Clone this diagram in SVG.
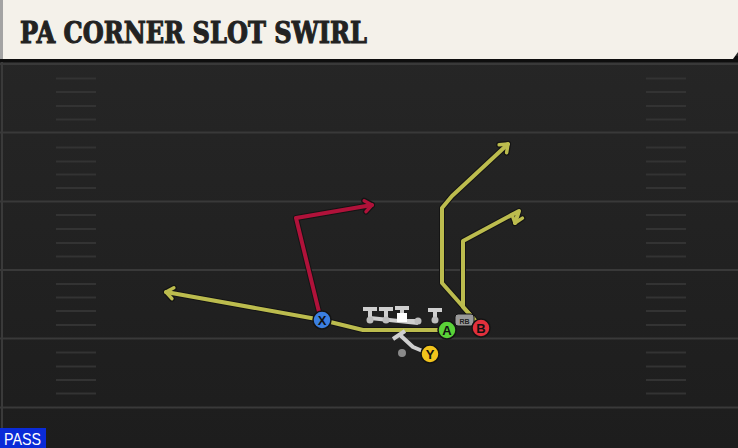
<svg xmlns="http://www.w3.org/2000/svg" width="738" height="448" viewBox="0 0 738 448">
<defs>
<linearGradient id="fieldg" x1="0" y1="0" x2="0" y2="1">
<stop offset="0" stop-color="#272727"/>
<stop offset="1" stop-color="#1d1d1d"/>
</linearGradient>
<marker id="adark" markerUnits="userSpaceOnUse" viewBox="-12 -12 24 24" markerWidth="24" markerHeight="24" refX="0" refY="0" orient="auto">
<path d="M-7,-5.5 L0,0 L-7,5.5" fill="none" stroke="#141414" stroke-width="6" stroke-linecap="round" stroke-linejoin="round"/>
</marker>
<marker id="ayel" markerUnits="userSpaceOnUse" viewBox="-12 -12 24 24" markerWidth="24" markerHeight="24" refX="0" refY="0" orient="auto">
<path d="M-7,-5.5 L0,0 L-7,5.5" fill="none" stroke="#bcbc4e" stroke-width="3.5" stroke-linecap="round" stroke-linejoin="round"/>
</marker>
<marker id="ared" markerUnits="userSpaceOnUse" viewBox="-12 -12 24 24" markerWidth="24" markerHeight="24" refX="0" refY="0" orient="auto">
<path d="M-7,-5.5 L0,0 L-7,5.5" fill="none" stroke="#b0123a" stroke-width="3.5" stroke-linecap="round" stroke-linejoin="round"/>
</marker>
</defs>
<style>
.yard{stroke:#393939;stroke-width:2}
.hash{stroke:#333333;stroke-width:2}
.out{fill:none;stroke:#141414;stroke-width:6;stroke-linejoin:round;stroke-linecap:round}
.yel{fill:none;stroke:#bcbc4e;stroke-width:4;stroke-linejoin:round;stroke-linecap:round}
.red{fill:none;stroke:#b0123a;stroke-width:4;stroke-linejoin:round;stroke-linecap:round}
.blk{fill:none;stroke:#cfcfcf;stroke-width:4;stroke-linecap:butt;stroke-linejoin:round}
.pl{stroke:#141414;stroke-width:1.5}
.lbl{font-family:"Liberation Sans",Arial,sans-serif;font-weight:bold;font-size:13px;fill:#111;text-anchor:middle}
</style>
<rect x="0" y="0" width="738" height="448" fill="url(#fieldg)"/>
<line x1="2" y1="60" x2="2" y2="448" stroke="#3a3a3a" stroke-width="2"/>
<g id="field">
<line class="yard" x1="0" y1="64" x2="738" y2="64"/>
<line class="yard" x1="0" y1="132.5" x2="738" y2="132.5"/>
<line class="yard" x1="0" y1="201.5" x2="738" y2="201.5"/>
<line class="yard" x1="0" y1="270" x2="738" y2="270"/>
<line class="yard" x1="0" y1="338.5" x2="738" y2="338.5"/>
<line class="yard" x1="0" y1="407.5" x2="738" y2="407.5"/>
<g class="hash">
<line x1="56" y1="78.5" x2="96" y2="78.5"/><line x1="56" y1="92" x2="96" y2="92"/><line x1="56" y1="106" x2="96" y2="106"/><line x1="56" y1="119.5" x2="96" y2="119.5"/>
<line x1="56" y1="147.5" x2="96" y2="147.5"/><line x1="56" y1="161.5" x2="96" y2="161.5"/><line x1="56" y1="174.5" x2="96" y2="174.5"/><line x1="56" y1="188" x2="96" y2="188"/>
<line x1="56" y1="215" x2="96" y2="215"/><line x1="56" y1="229" x2="96" y2="229"/><line x1="56" y1="243" x2="96" y2="243"/><line x1="56" y1="256.5" x2="96" y2="256.5"/>
<line x1="56" y1="284" x2="96" y2="284"/><line x1="56" y1="297.5" x2="96" y2="297.5"/><line x1="56" y1="311" x2="96" y2="311"/><line x1="56" y1="325" x2="96" y2="325"/>
<line x1="56" y1="352.5" x2="96" y2="352.5"/><line x1="56" y1="366.5" x2="96" y2="366.5"/><line x1="56" y1="380" x2="96" y2="380"/><line x1="56" y1="393.5" x2="96" y2="393.5"/>
<line x1="646" y1="78.5" x2="686" y2="78.5"/><line x1="646" y1="92" x2="686" y2="92"/><line x1="646" y1="106" x2="686" y2="106"/><line x1="646" y1="119.5" x2="686" y2="119.5"/>
<line x1="646" y1="147.5" x2="686" y2="147.5"/><line x1="646" y1="161.5" x2="686" y2="161.5"/><line x1="646" y1="174.5" x2="686" y2="174.5"/><line x1="646" y1="188" x2="686" y2="188"/>
<line x1="646" y1="215" x2="686" y2="215"/><line x1="646" y1="229" x2="686" y2="229"/><line x1="646" y1="243" x2="686" y2="243"/><line x1="646" y1="256.5" x2="686" y2="256.5"/>
<line x1="646" y1="284" x2="686" y2="284"/><line x1="646" y1="297.5" x2="686" y2="297.5"/><line x1="646" y1="311" x2="686" y2="311"/><line x1="646" y1="325" x2="686" y2="325"/>
<line x1="646" y1="352.5" x2="686" y2="352.5"/><line x1="646" y1="366.5" x2="686" y2="366.5"/><line x1="646" y1="380" x2="686" y2="380"/><line x1="646" y1="393.5" x2="686" y2="393.5"/>
</g>
</g>
<g id="header">
<rect x="0" y="56" width="738" height="6" fill="#0e0e0e"/>
<polygon points="0,0 738,0 738,52 733,59 0,59" fill="#f4f1ea"/>
<rect x="0" y="0" width="3" height="59" fill="#a3a3a3"/>
<text x="20" y="43" font-family="'DejaVu Serif','Liberation Serif',serif" font-weight="bold" font-size="29" fill="#222" stroke="#222" stroke-width="1.1" textLength="347" lengthAdjust="spacingAndGlyphs">PA CORNER SLOT SWIRL</text>
</g>
<g id="connectors">
<path class="out" d="M447,330 L363,330 L322,320 L166,292" marker-end="url(#adark)"/>
<path class="out" d="M320,316 L296,218 L372,205" marker-end="url(#adark)"/>
<path class="out" d="M481,328 L473,318 L442,283 L442,208 L452,196 L508,144" marker-end="url(#adark)"/>
<path class="out" d="M481,328 L473,318 L463,307 L463,241 L519,211 L515,223" marker-end="url(#adark)"/>
<path class="yel" d="M447,330 L363,330 L322,320 L166,292" marker-end="url(#ayel)"/>
<path class="red" d="M320,316 L296,218 L372,205" marker-end="url(#ared)"/>
<path class="yel" d="M481,328 L473,318 L442,283 L442,208 L452,196 L508,144" marker-end="url(#ayel)"/>
<path class="yel" d="M481,328 L473,318 L463,307 L463,241 L519,211 L515,223" marker-end="url(#ayel)"/>
</g>
<g id="line">
<path class="blk" d="M370,320 L370,309 M363,309 L377,309"/>
<path class="blk" d="M386,320 L386,309 M379,309 L393,309"/>
<path class="blk" d="M402,318 L402,308 M395,308 L409,308"/>
<path class="blk" d="M435,320 L435,310 M428,310 L442,310"/>
<path class="blk" d="M370,318 L418,323"/>
<path class="blk" d="M404,321 L418,321"/>
<circle cx="370" cy="320" r="3.5" fill="#bdbdbd"/>
<circle cx="386" cy="320" r="3.5" fill="#bdbdbd"/>
<rect x="397" y="313" width="10" height="9" fill="#ffffff"/>
<circle cx="418" cy="321" r="3.5" fill="#bdbdbd"/>
<circle cx="435" cy="320" r="3.5" fill="#bdbdbd"/>
<circle cx="402" cy="353" r="4" fill="#8a8a8a"/>
<path class="blk" d="M425,352 L413,347 L400,335 M393,339 L405,331"/>
</g>
<g id="rb">
<rect x="455" y="314" width="19" height="12" rx="3" fill="#9a9a9a" stroke="#141414" stroke-width="1"/>
<text x="464.5" y="323.5" font-family="'Liberation Sans',Arial,sans-serif" font-size="7" font-weight="bold" fill="#222" text-anchor="middle">RB</text>
</g>
<g id="X"><circle class="pl" cx="322" cy="320" r="9" fill="#3b7fe0"/><text class="lbl" x="322" y="325">X</text></g>
<g id="A"><circle class="pl" cx="447" cy="330" r="9" fill="#5ad238"/><text class="lbl" x="447" y="335">A</text></g>
<g id="B"><circle class="pl" cx="481" cy="328" r="9" fill="#e2303c"/><text class="lbl" x="481" y="333">B</text></g>
<g id="Y"><circle class="pl" cx="430" cy="354" r="9" fill="#f2c41c"/><text class="lbl" x="430" y="359">Y</text></g>
<g id="pass">
<rect x="0" y="428" width="46" height="20" fill="#0a2bd8"/>
<text x="4" y="445" font-family="'Liberation Sans',Arial,sans-serif" font-size="17" fill="#ffffff" textLength="37" lengthAdjust="spacingAndGlyphs">PASS</text>
</g>
</svg>
